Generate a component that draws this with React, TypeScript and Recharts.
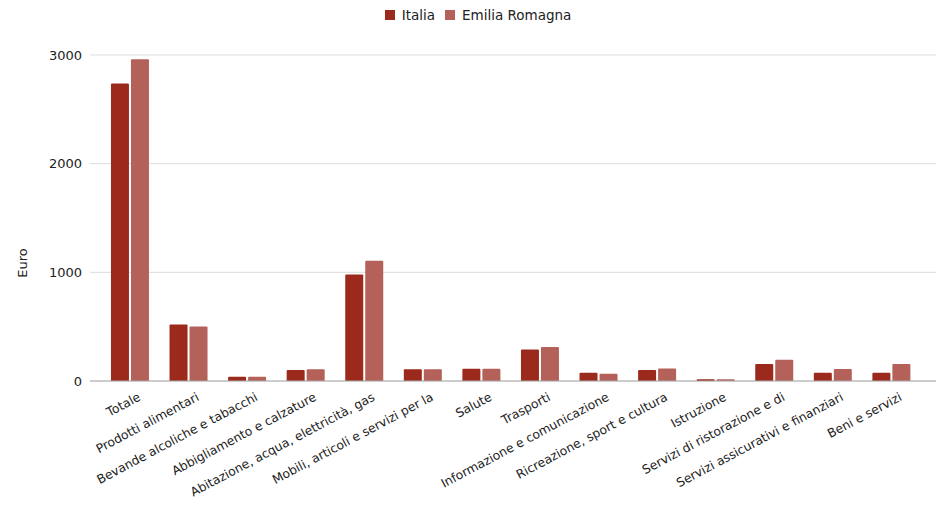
import React from 'react';
import { BarChart, Bar, XAxis, YAxis, CartesianGrid, Legend, Label } from 'recharts';

const categories = [
  'Totale',
  'Prodotti alimentari',
  'Bevande alcoliche e tabacchi',
  'Abbigliamento e calzature',
  'Abitazione, acqua, elettricità, gas',
  'Mobili, articoli e servizi per la',
  'Salute',
  'Trasporti',
  'Informazione e comunicazione',
  'Ricreazione, sport e cultura',
  'Istruzione',
  'Servizi di ristorazione e di',
  'Servizi assicurativi e finanziari',
  'Beni e servizi',
];

const italia = [2738, 520, 40, 101, 979, 107, 113, 291, 76, 101, 16, 156, 76, 76];
const emiliaRomagna = [2961, 502, 40, 107, 1107, 107, 113, 312, 67, 116, 16, 195, 110, 156];

const yTicks = [0, 1000, 2000, 3000];

const seriesNames = ['Italia', 'Emilia Romagna'];
const seriesColors = ['#9c2a1c', '#b4615a'];

const data = categories.map((c, i) => ({
  name: c,
  [seriesNames[0]]: italia[i],
  [seriesNames[1]]: emiliaRomagna[i],
}));

const FONT = '"DejaVu Sans", Verdana, sans-serif';

const XTick = (props: any) => {
  const { x, y, payload } = props;
  return (
    <g transform={`translate(${x + 7},${y + 3})`}>
      <text
        transform="rotate(-28)"
        textAnchor="end"
        dy="0.71em"
        fontSize={12.3}
        fontFamily={FONT}
        fill="#222"
      >
        {payload.value}
      </text>
    </g>
  );
};

const LegendContent = () => (
  <div
    style={{
      display: 'flex',
      justifyContent: 'center',
      alignItems: 'center',
      fontFamily: FONT,
      fontSize: 13.5,
      color: '#222',
      gap: 10,
      paddingLeft: 20,
    }}
  >
    {seriesNames.map((n, i) => (
      <div key={n} style={{ display: 'flex', alignItems: 'center' }}>
        <span
          style={{
            display: 'inline-block',
            width: 10,
            height: 10,
            background: seriesColors[i],
            marginRight: 7,
          }}
        />
        <span>{n}</span>
      </div>
    ))}
  </div>
);

export default function App() {
  return (
    <div style={{ position: 'absolute', left: 0, top: 0, background: '#fff' }}>
      <BarChart
        width={936}
        height={505}
        data={data}
        margin={{ top: 39, right: 0, bottom: 0, left: 30 }}
        barCategoryGap="17%"
        barGap={2}
      >
        <CartesianGrid vertical={false} stroke="#dddddd" />
        <Legend
          verticalAlign="top"
          align="center"
          content={<LegendContent />}
          wrapperStyle={{ top: 7, left: 0, width: 936 }}
        />
        <XAxis
          dataKey="name"
          interval={0}
          tickLine={false}
          axisLine={{ stroke: '#aaaaaa' }}
          height={124}
          padding={{ left: 11, right: 15 }}
          tick={<XTick />}
        />
        <YAxis
          width={60}
          domain={[0, 3000]}
          ticks={yTicks}
          tickLine={false}
          axisLine={false}
          tick={{ fontFamily: FONT, fontSize: 13, fill: '#222' }}
        >
          <Label
            value="Euro"
            angle={-90}
            position="insideLeft"
            offset={-8}
            dy={45}
            style={{ fontFamily: FONT, fontSize: 13, fill: '#222', textAnchor: 'middle' }}
          />
        </YAxis>
        <Bar dataKey={seriesNames[0]} fill={seriesColors[0]} isAnimationActive={false} radius={[1, 1, 0, 0]} />
        <Bar dataKey={seriesNames[1]} fill={seriesColors[1]} isAnimationActive={false} radius={[1, 1, 0, 0]} />
      </BarChart>
    </div>
  );
}
